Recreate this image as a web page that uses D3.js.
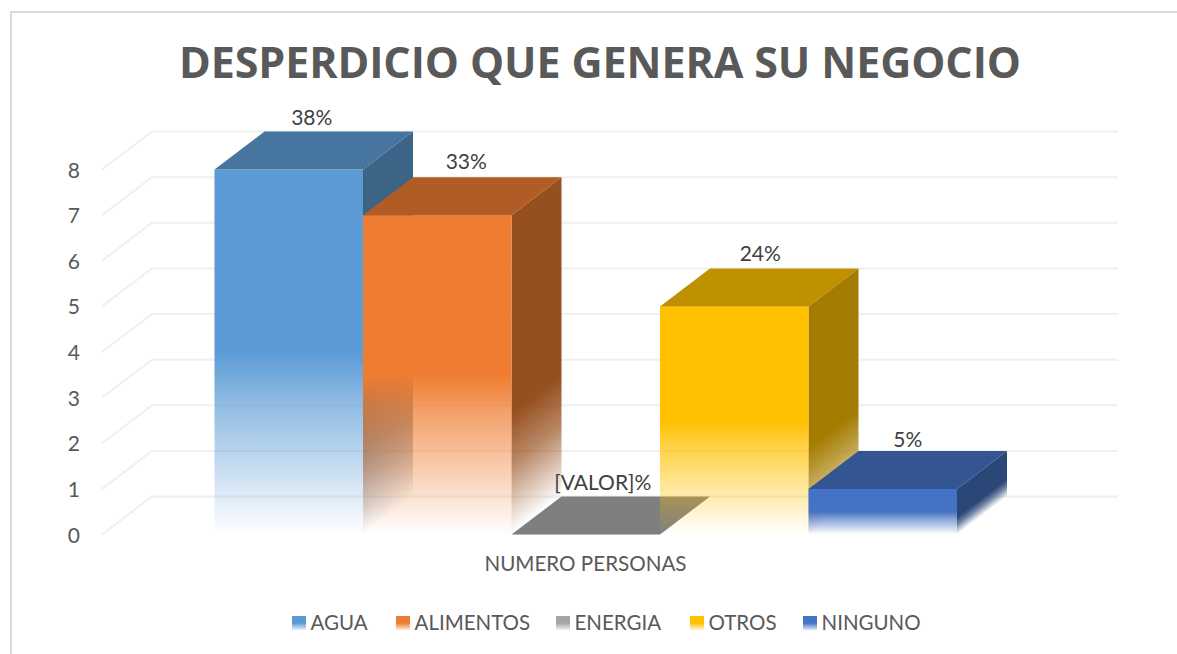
<!DOCTYPE html>
<html><head><meta charset="utf-8">
<script src="https://cdn.jsdelivr.net/npm/d3@7"></script>
<style>html,body{margin:0;padding:0;background:#fff}svg{display:block}text{font-family:Lato,"Open Sans",sans-serif}</style>
</head><body><svg id="c" width="1177" height="654"></svg>
<script>
const categories = ["AGUA","ALIMENTOS","ENERGIA","OTROS","NINGUNO"];
const values = [8,7,0,5,1];
const dataLabels = ["38%","33%","[VALOR]%","24%","5%"];
const frontColors = ["#5b9bd5","#ef7d31","#a5a5a5","#ffc000","#4472c4"];
const topColors = ["#46759f","#b25c25","#7f7f7f","#bf9000","#335693"];
const sideColors = ["#3b6487","#964f1e","#666666","#a47c00","#2a4778"];
const yTicks = [0,1,2,3,4,5,6,7,8];
const legendSwatchX = [292,396,556,690,803];
const labelNudgeX = [-2,4,-8,1,0];
const labelNudgeY = [-1,-2,-1,-1,2];

const W=1177,H=654, dx=50, dy=-38;
const svg=d3.select("#c");
const defs=svg.append("defs");
const x=d3.scaleBand().domain(categories).range([214.5,957]).padding(0);
const y=d3.scaleLinear().domain([0,8]).range([534.5,169.5]);

const fp=d3.path(); fp.moveTo(11,H); fp.lineTo(11,12); fp.lineTo(W,12);
svg.append("path").attr("d",fp.toString()).attr("fill","none").attr("stroke","#d9d9d9").attr("stroke-width",2);

svg.append("text").attr("x",179).attr("y",78)
 .attr("font-size",43).attr("font-weight",700).attr("fill","#595959")
 .style("font-family","'Open Sans'")
 .attr("textLength",842).attr("lengthAdjust","spacing")
 .text("DESPERDICIO QUE GENERA SU NEGOCIO");

const grid=svg.append("g").attr("fill","none").attr("stroke","#f0f0f0").attr("stroke-width",2);
yTicks.forEach(t=>{
  const p=d3.path(); p.moveTo(102,y(t)); p.lineTo(102+dx,y(t)+dy); p.lineTo(1118,y(t)+dy);
  grid.append("path").attr("d",p.toString());
});

const axis=svg.append("g").attr("transform","translate(80,0)")
 .call(d3.axisLeft(y).tickValues(yTicks).tickSize(0).tickPadding(0).tickFormat(d3.format("d")));
axis.select(".domain").remove();
axis.selectAll("text").attr("font-size",21).attr("fill","#595959").attr("font-family","Lato").attr("dy","0.36em");

function grad(id,color,x1,y1,x2,y2,stops){
  const g=defs.append("linearGradient").attr("id",id).attr("gradientUnits","userSpaceOnUse")
    .attr("x1",x1).attr("y1",y1).attr("x2",x2).attr("y2",y2);
  stops.forEach(s=>g.append("stop").attr("offset",s[0]).attr("stop-color",color).attr("stop-opacity",s[1]));
}
const frontStops=[[0,1],[.5,1],[.62,.72],[1,0]];
const sideStops=[[0,1],[.62,1],[.78,.68],[1,0]];
const poly=pts=>pts.map(p=>p.join(",")).join(" ");
categories.forEach((c,i)=>{
  const x0=x(c),x1=x0+x.bandwidth(),yt=y(values[i]),yb=y(0),g=svg.append("g");
  if(values[i]>0){
    const h=yb-yt, len=Math.hypot(dx,dy), nx=-dy/len, ny=dx/len, t=h*ny;
    grad("s"+i,sideColors[i],x1,yt,x1+nx*t,yt+ny*t,sideStops);
    g.append("polygon").attr("points",poly([[x1,yt],[x1+dx,yt+dy],[x1+dx,yb+dy],[x1,yb]])).attr("fill",`url(#s${i})`);
    grad("f"+i,frontColors[i],0,yt,0,yb,frontStops);
    g.append("rect").attr("x",x0).attr("y",yt).attr("width",x.bandwidth()).attr("height",h).attr("fill",`url(#f${i})`);
  }
  g.append("polygon").attr("points",poly([[x0,yt],[x0+dx,yt+dy],[x1+dx,yt+dy],[x1,yt]])).attr("fill",topColors[i]);
  svg.append("text").attr("x",(x0+x1)/2+dx/2+labelNudgeX[i]).attr("y",yt+dy-6+labelNudgeY[i])
    .attr("text-anchor","middle").attr("font-size",21).attr("fill","#404040").text(dataLabels[i]);
});

svg.append("text").attr("x",585.5).attr("y",571).attr("text-anchor","middle").attr("font-size",20.6).attr("fill","#595959").text("NUMERO PERSONAS");

categories.forEach((c,i)=>{
  const g=defs.append("linearGradient").attr("id","l"+i).attr("x1",0).attr("y1",0).attr("x2",0).attr("y2",1);
  g.append("stop").attr("offset",0.5).attr("stop-color",frontColors[i]);
  g.append("stop").attr("offset",1).attr("stop-color",frontColors[i]).attr("stop-opacity",.15);
  svg.append("rect").attr("x",legendSwatchX[i]).attr("y",616).attr("width",14).attr("height",14).attr("fill",`url(#l${i})`);
  svg.append("text").attr("x",legendSwatchX[i]+18.5).attr("y",630).attr("font-size",20.5).attr("fill","#595959").text(c);
});
</script></body></html>
